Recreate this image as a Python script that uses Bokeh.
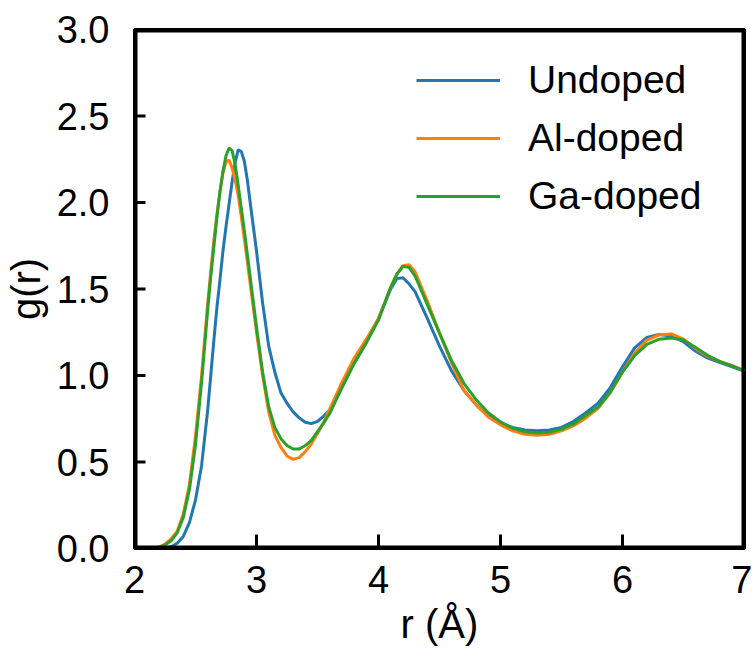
from bokeh.plotting import figure
from bokeh.models import FixedTicker, PrintfTickFormatter, Legend, LegendItem, Range1d
from bokeh.embed import file_html
from bokeh.resources import INLINE

r = [2.0, 2.1, 2.2, 2.25, 2.3, 2.35, 2.4, 2.45, 2.5, 2.55,
     2.6, 2.625, 2.65, 2.675, 2.7, 2.725, 2.75, 2.775, 2.8, 2.825,
     2.85, 2.875, 2.9, 2.925, 2.95, 3.0, 3.05, 3.1, 3.15, 3.2,
     3.25, 3.3, 3.35, 3.4, 3.45, 3.5, 3.55, 3.6, 3.7, 3.8,
     3.9, 4.0, 4.1, 4.15, 4.2, 4.25, 4.3, 4.4, 4.5, 4.6,
     4.7, 4.8, 4.9, 5.0, 5.1, 5.2, 5.3, 5.4, 5.5, 5.6,
     5.7, 5.8, 5.9, 6.0, 6.1, 6.2, 6.3, 6.4, 6.5, 6.6,
     6.7, 6.8, 6.9, 7.0]

undoped = [0.0, 0.0, 0.0, 0.003, 0.01, 0.03, 0.07, 0.15, 0.28, 0.48,
           0.80, 1.00, 1.20, 1.39, 1.55, 1.72, 1.86, 1.99, 2.12, 2.23,
           2.305, 2.295, 2.24, 2.13, 1.99, 1.72, 1.42, 1.17, 1.02, 0.90,
           0.84, 0.79, 0.755, 0.73, 0.722, 0.735, 0.765, 0.80, 0.93, 1.07,
           1.19, 1.33, 1.50, 1.56, 1.565, 1.53, 1.485, 1.33, 1.17, 1.025,
           0.915, 0.83, 0.765, 0.725, 0.70, 0.685, 0.68, 0.685, 0.70, 0.735,
           0.785, 0.84, 0.93, 1.05, 1.16, 1.22, 1.237, 1.228, 1.195, 1.14,
           1.10, 1.075, 1.05, 1.025]

al_doped = [0.0, 0.0, 0.008, 0.025, 0.055, 0.10, 0.20, 0.37, 0.65, 1.00,
            1.42, 1.60, 1.78, 1.93, 2.06, 2.17, 2.235, 2.245, 2.20, 2.13,
            2.04, 1.92, 1.79, 1.66, 1.52, 1.25, 1.00, 0.79, 0.655, 0.585,
            0.535, 0.515, 0.525, 0.56, 0.605, 0.665, 0.73, 0.805, 0.96, 1.10,
            1.21, 1.33, 1.51, 1.585, 1.635, 1.64, 1.60, 1.43, 1.245, 1.07,
            0.915, 0.83, 0.76, 0.715, 0.68, 0.66, 0.655, 0.66, 0.68, 0.71,
            0.755, 0.81, 0.90, 1.02, 1.13, 1.205, 1.235, 1.24, 1.21, 1.155,
            1.11, 1.08, 1.057, 1.03]

ga_doped = [0.0, 0.0, 0.006, 0.02, 0.045, 0.09, 0.18, 0.34, 0.60, 0.96,
            1.38, 1.57, 1.74, 1.91, 2.06, 2.18, 2.27, 2.315, 2.30, 2.22,
            2.10, 1.97, 1.84, 1.70, 1.56, 1.28, 1.02, 0.82, 0.70, 0.635,
            0.595, 0.575, 0.575, 0.595, 0.625, 0.675, 0.725, 0.78, 0.93, 1.07,
            1.19, 1.32, 1.51, 1.585, 1.63, 1.625, 1.575, 1.41, 1.245, 1.085,
            0.955, 0.86, 0.785, 0.732, 0.695, 0.675, 0.668, 0.672, 0.69, 0.72,
            0.77, 0.818, 0.905, 1.02, 1.115, 1.18, 1.21, 1.217, 1.205, 1.162,
            1.115, 1.08, 1.055, 1.025]

series_names = ["Undoped", "Al-doped", "Ga-doped"]
series_colors = ["#1f77b4", "#ff7f0e", "#2ca02c"]
x_ticks = [2, 3, 4, 5, 6, 7]
y_ticks = [0.0, 0.5, 1.0, 1.5, 2.0, 2.5, 3.0]
x_min, x_max = 2, 7
y_min, y_max = 0, 3

FONT = "Liberation Sans"
FRAME_W, FRAME_H = 610, 519
XTICK_PX = 14
YTICK_PX = 11

p = figure(frame_width=FRAME_W, frame_height=FRAME_H,
           min_border_left=129, min_border_right=8,
           min_border_top=29, min_border_bottom=100,
           x_range=Range1d(x_min, x_max), y_range=Range1d(y_min, y_max),
           output_backend="svg", toolbar_location=None)

p.xgrid.visible = False
p.ygrid.visible = False
p.outline_line_color = "black"
p.outline_line_width = 3
p.background_fill_alpha = 0
p.border_fill_color = "white"

for ax in (p.xaxis[0], p.yaxis[0]):
    ax.axis_line_width = 3
    ax.axis_line_color = "black"
    ax.major_tick_in = 0
    ax.major_tick_out = 0
    ax.major_tick_line_color = None
    ax.minor_tick_line_color = None
    ax.major_label_text_font = FONT
    ax.major_label_text_font_size = "38px"
    ax.major_label_text_color = "black"
    ax.axis_label_text_font = FONT
    ax.axis_label_text_font_size = "40px"
    ax.axis_label_text_font_style = "normal"
    ax.axis_label_text_color = "black"

p.xaxis[0].ticker = FixedTicker(ticks=x_ticks)
p.xaxis[0].formatter = PrintfTickFormatter(format="%d")
p.xaxis[0].axis_label = "r (Å)"
p.xaxis[0].major_label_standoff = 17
p.xaxis[0].axis_label_standoff = 6

p.yaxis[0].ticker = FixedTicker(ticks=y_ticks)
p.yaxis[0].formatter = PrintfTickFormatter(format="%.1f")
p.yaxis[0].axis_label = "g(r)"
p.yaxis[0].major_label_standoff = 25
p.yaxis[0].axis_label_standoff = 6

renderers = []
for ys, c in zip([undoped, al_doped, ga_doped], series_colors):
    renderers.append(p.line(r, ys, line_color=c, line_width=3))

# inward tick marks, length converted from pixels to data units
tick_dy = XTICK_PX * (y_max - y_min) / FRAME_H
tick_dx = YTICK_PX * (x_max - x_min) / FRAME_W
for t in x_ticks:
    p.line([t, t], [y_min, y_min + tick_dy], line_color="black", line_width=3)
for t in y_ticks:
    p.line([x_min, x_min + tick_dx], [t, t], line_color="black", line_width=3)

# frame border (lines on the frame edge are half clipped, hence doubled width)
p.line([x_min, x_max, x_max, x_min, x_min], [y_min, y_min, y_max, y_max, y_min],
       line_color="black", line_width=6)

legend = Legend(items=[LegendItem(label=n, renderers=[rr]) for n, rr in zip(series_names, renderers)],
                location=(282, 323))
legend.padding = 0
legend.margin = 0
legend.spacing = 0
legend.border_line_color = None
legend.background_fill_alpha = 0
legend.glyph_width = 84
legend.glyph_height = 58
legend.label_height = 58
legend.label_standoff = 28
legend.label_text_font = FONT
legend.label_text_font_size = "39px"
legend.label_text_color = "black"
p.add_layout(legend, "center")

open("out.html", "w").write(file_html(p, INLINE))
